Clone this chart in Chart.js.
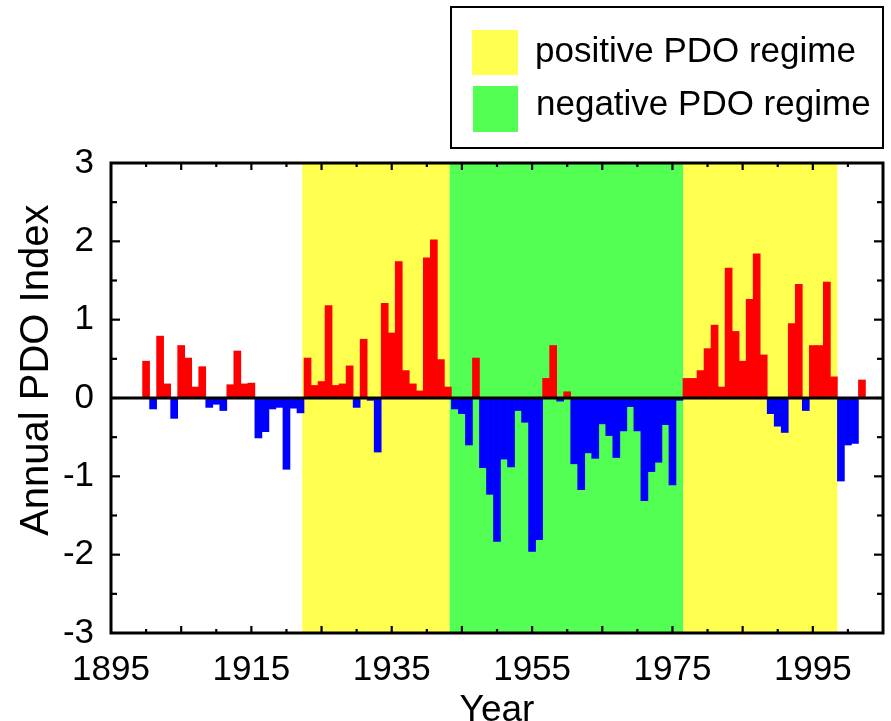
<!DOCTYPE html>
<html>
<head>
<meta charset="utf-8">
<script src="https://cdn.jsdelivr.net/npm/chart.js@4.4.1/dist/chart.umd.min.js"></script>
<style>
html,body{margin:0;padding:0;background:#ffffff;overflow:hidden;}
#wrap{width:891px;height:721px;position:relative;}
</style>
</head>
<body>
<div id="wrap"><canvas id="c"></canvas></div>
<script>
// ---- data ----
const years = [1900,1901,1902,1903,1904,1905,1906,1907,1908,1909,
  1910,1911,1912,1913,1914,1915,1916,1917,1918,1919,
  1920,1921,1922,1923,1924,1925,1926,1927,1928,1929,
  1930,1931,1932,1933,1934,1935,1936,1937,1938,1939,
  1940,1941,1942,1943,1944,1945,1946,1947,1948,1949,
  1950,1951,1952,1953,1954,1955,1956,1957,1958,1959,
  1960,1961,1962,1963,1964,1965,1966,1967,1968,1969,
  1970,1971,1972,1973,1974,1975,1976,1977,1978,1979,
  1980,1981,1982,1983,1984,1985,1986,1987,1988,1989,
  1990,1991,1992,1993,1994,1995,1996,1997,1998,1999,
  2000,2001,2002];
const pdoIndex = [0.47,-0.14,0.79,0.18,-0.26,0.67,0.51,0.14,0.40,-0.12,
  -0.08,-0.16,0.17,0.60,0.18,0.19,-0.51,-0.43,-0.14,-0.12,
  -0.91,-0.13,-0.19,0.51,0.16,0.21,1.18,0.16,0.18,0.41,
  -0.12,0.75,-0.03,-0.69,1.21,0.83,1.74,0.35,0.18,0.09,
  1.79,2.02,0.49,0.14,-0.14,-0.20,-0.60,0.51,-0.89,-1.23,
  -1.83,-0.78,-0.88,-0.16,-0.31,-1.96,-1.81,0.25,0.67,-0.04,
  0.08,-0.84,-1.17,-0.70,-0.77,-0.33,-0.48,-0.76,-0.42,-0.11,
  -0.42,-1.31,-0.94,-0.82,-0.34,-1.11,-0.03,0.25,0.25,0.35,
  0.63,0.93,0.14,1.66,0.85,0.47,1.26,1.84,0.55,-0.20,
  -0.36,-0.44,0.95,1.45,-0.16,0.67,0.67,1.48,0.27,-1.06,
  -0.60,-0.58,0.23];
const regimeStart = [1922.25, 1943.25, 1976.55];
const regimeEnd   = [1943.25, 1976.55, 1998.5];
const regimeKind  = ['positive', 'negative', 'positive'];
const legendLabels = ['positive PDO regime', 'negative PDO regime'];
const xTickLabels = ['1895','1915','1935','1955','1975','1995'];
const yTickLabels = ['-3','-2','-1','0','1','2','3'];

// ---- styles ----
const RED = '#ff0000', BLUE = '#0000ff';
const regimeColors = { positive: '#ffff4f', negative: '#52ff52' };
const FONT = '"Liberation Sans", Arial, Helvetica, sans-serif';

const decor = {
  id: 'decor',
  beforeDatasetsDraw(chart) {
    const { ctx, chartArea: a, scales: { x } } = chart;
    ctx.save();
    ctx.beginPath();
    ctx.rect(a.left, a.top, a.right - a.left, a.bottom - a.top);
    ctx.clip();
    regimeStart.forEach((s, i) => {
      const x0 = x.getPixelForValue(s);
      const x1 = x.getPixelForValue(regimeEnd[i]);
      ctx.fillStyle = regimeColors[regimeKind[i]];
      ctx.fillRect(x0, a.top, x1 - x0, a.bottom - a.top);
    });
    ctx.restore();
  },
  afterDatasetsDraw(chart) {
    const { ctx, chartArea: a, scales: { x, y } } = chart;
    const line = (x0, y0, x1, y1) => { ctx.beginPath(); ctx.moveTo(x0, y0); ctx.lineTo(x1, y1); ctx.stroke(); };
    ctx.save();
    ctx.strokeStyle = '#000';
    ctx.lineWidth = 3;
    const y0 = y.getPixelForValue(0);
    line(a.left, y0, a.right, y0);
    ctx.lineWidth = 2.2;
    x.ticks.forEach(t => {
      const px = x.getPixelForValue(t.value);
      if (px <= a.left + 1 || px >= a.right - 1) return;
      const len = ((t.value - 1895) % 10 === 0) ? 7 : 4;
      line(px, a.bottom, px, a.bottom - len);
      line(px, a.top, px, a.top + len);
    });
    y.ticks.forEach(t => {
      const py = y.getPixelForValue(t.value);
      if (py <= a.top + 1 || py >= a.bottom - 1) return;
      const len = Number.isInteger(t.value) ? 9 : 6;
      line(a.left, py, a.left + len, py);
      line(a.right, py, a.right - len, py);
    });
    ctx.lineWidth = 3;
    ctx.strokeRect(a.left, a.top, a.right - a.left, a.bottom - a.top);
    ctx.restore();
  },
  afterDraw(chart) {
    const { ctx } = chart;
    ctx.save();
    ctx.fillStyle = '#ffffff';
    ctx.fillRect(451, 7, 432, 141);
    ctx.strokeStyle = '#000';
    ctx.lineWidth = 2;
    ctx.strokeRect(451, 7, 432, 141);
    ctx.fillStyle = regimeColors.positive;
    ctx.fillRect(472, 30, 46, 45);
    ctx.fillStyle = regimeColors.negative;
    ctx.fillRect(473, 86, 45, 46);
    ctx.fillStyle = '#000';
    ctx.font = '35px ' + FONT;
    ctx.textAlign = 'left';
    ctx.textBaseline = 'alphabetic';
    ctx.fillText(legendLabels[0], 535, 62);
    ctx.fillText(legendLabels[1], 536, 115);
    ctx.restore();
  }
};

new Chart(document.getElementById('c'), {
  type: 'bar',
  data: {
    datasets: [{
      data: years.map((yr, i) => ({ x: yr, y: pdoIndex[i] })),
      backgroundColor: c => (c.raw && c.raw.y < 0) ? BLUE : RED,
      borderWidth: 0,
      barPercentage: 1,
      categoryPercentage: 1
    }]
  },
  options: {
    responsive: true,
    maintainAspectRatio: false,
    animation: false,
    devicePixelRatio: 1,
    layout: { padding: { top: 163, right: 8, left: 0, bottom: 0 } },
    plugins: { legend: { display: false }, tooltip: { enabled: false } },
    scales: {
      x: {
        type: 'linear',
        position: 'bottom',
        min: 1895,
        max: 2005,
        offset: false,
        grid: { display: false, drawTicks: false },
        border: { display: false },
        ticks: {
          stepSize: 5,
          autoSkip: false,
          maxRotation: 0,
          padding: 16,
          color: '#000',
          font: { family: FONT, size: 35 },
          callback: v => xTickLabels.includes(String(v)) ? String(v) : ''
        },
        title: {
          display: true,
          text: 'Year',
          color: '#000',
          font: { family: FONT, size: 37, lineHeight: 0.55 },
          padding: 0
        },
        afterFit: s => { s.height = 88; s.paddingLeft = 0; s.paddingRight = 0; }
      },
      y: {
        type: 'linear',
        min: -3,
        max: 3,
        grid: { display: false, drawTicks: false },
        border: { display: false },
        ticks: {
          stepSize: 0.5,
          autoSkip: false,
          padding: 17,
          color: '#000',
          font: { family: FONT, size: 35 },
          callback: v => yTickLabels.includes(String(v)) ? String(v) : ''
        },
        title: {
          display: true,
          text: '     Annual PDO Index',
          color: '#000',
          font: { family: FONT, size: 40, lineHeight: 1 },
          padding: { top: 17, bottom: 0 }
        },
        afterFit: s => { s.width = 111; }
      }
    }
  },
  plugins: [decor]
});
</script>
</body>
</html>
